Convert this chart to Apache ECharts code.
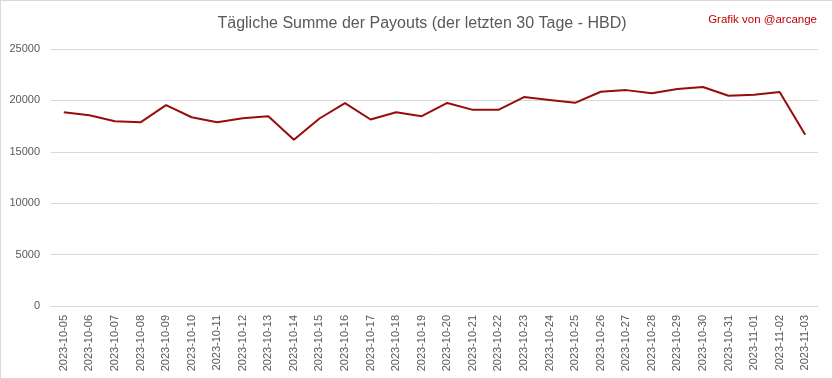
<!DOCTYPE html>
<html>
<head>
<meta charset="utf-8">
<script src="https://cdn.jsdelivr.net/npm/echarts@6/dist/echarts.min.js"></script>
<style>
html,body{margin:0;padding:0;background:#fff;}
#c{width:833px;height:379px;box-sizing:border-box;border:1px solid #d9d9d9;}
</style>
</head>
<body>
<div id="c"></div>
<script>
const categories = ["2023-10-05","2023-10-06","2023-10-07","2023-10-08","2023-10-09","2023-10-10","2023-10-11","2023-10-12","2023-10-13","2023-10-14","2023-10-15","2023-10-16","2023-10-17","2023-10-18","2023-10-19","2023-10-20","2023-10-21","2023-10-22","2023-10-23","2023-10-24","2023-10-25","2023-10-26","2023-10-27","2023-10-28","2023-10-29","2023-10-30","2023-10-31","2023-11-01","2023-11-02","2023-11-03"];
const payouts = [18850,18560,17970,17870,19540,18360,17870,18260,18460,16180,18240,19740,18140,18850,18460,19750,19080,19080,20320,20050,19760,20840,21000,20700,21110,21310,20450,20550,20810,16660];
const yTicks = [0,5000,10000,15000,20000,25000];

const chart = echarts.init(document.getElementById('c'), null, {renderer:'canvas'});
chart.setOption({
  animation:false,
  backgroundColor:'#fff',
  title:[{
    text:'Tägliche Summe der Payouts (der letzten 30 Tage - HBD)',
    left:416, top:10, textAlign:'center',
    textStyle:{fontFamily:'Liberation Sans',fontSize:16,fontWeight:'normal',color:'#595959'}
  },{
    text:'Grafik von @arcange',
    right:10, top:8,
    textStyle:{fontFamily:'Liberation Sans',fontSize:11.5,fontWeight:'normal',color:'#c00000'}
  }],
  grid:{left:50,right:14,top:48,bottom:72,containLabel:false},
  xAxis:{
    type:'category',
    data:categories,
    boundaryGap:true,
    axisLine:{lineStyle:{color:'#d9d9d9'}},
    axisTick:{show:false},
    axisLabel:{rotate:90,interval:0,color:'#595959',fontFamily:'Liberation Sans',fontSize:11,margin:9}
  },
  yAxis:{
    type:'value',
    min:yTicks[0], max:yTicks[yTicks.length-1], interval:5000,
    axisLine:{show:false},
    axisTick:{show:false},
    splitLine:{lineStyle:{color:'#d9d9d9'}},
    axisLabel:{color:'#595959',fontFamily:'Liberation Sans',fontSize:11,margin:11,formatter:function(v){return String(v);}}
  },
  series:[{
    type:'line',
    data:payouts,
    symbol:'none',
    lineStyle:{color:'#980c0c',width:2},
    itemStyle:{color:'#980c0c'}
  }]
});
</script>
</body>
</html>
